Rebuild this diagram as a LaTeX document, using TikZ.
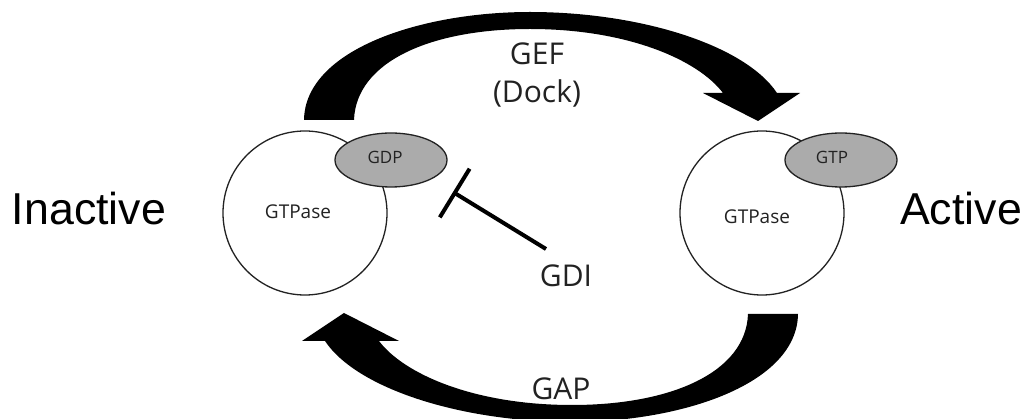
\documentclass[tikz,border=0pt]{standalone}
\usepackage{fontspec}
\setmainfont{Open Sans}
\newfontfamily\arialfont{Liberation Sans}
\usetikzlibrary{shapes.geometric,arrows.meta}
\definecolor{ink}{HTML}{222222}
\definecolor{nucfill}{HTML}{ABABAB}
\tikzset{
  protein/.style={circle, draw=ink, line width=1.3pt, fill=white, minimum size=164pt, inner sep=0pt},
  nucleotide/.style={ellipse, draw=ink, line width=1.3pt, fill=nucfill, minimum width=112pt, minimum height=54pt, inner sep=0pt},
  biglabel/.style={font=\fontsize{30}{38}\selectfont, text=ink, anchor=base, align=center, inner sep=0pt},
  smalllabel/.style={font=\fontsize{19}{22}\selectfont, text=ink, anchor=base, inner sep=0pt},
  nuclabel/.style={font=\fontsize{17}{20}\selectfont, text=ink, anchor=base, inner sep=0pt},
  statelabel/.style={font=\arialfont\fontsize{44.7}{50}\selectfont, text=black, anchor=base, inner sep=0pt},
  fatarrow/.style={fill=black, draw=none},
  inhibit/.style={line width=4pt, draw=black, -{Bar[width=57pt, line width=4pt]}}
}
\begin{document}
\begin{tikzpicture}[x=1pt,y=-1pt]
\useasboundingbox (0,0) rectangle (1029,419);
\fill[white] (0,0) rectangle (1029,419);
% GEF arrow (top)
\path[fatarrow] (304,120) .. controls (305,50) and (420,12) .. (530,12)
  .. controls (640,12) and (745,45) .. (777,93)
  -- (800,93) -- (758,121) -- (703,93) -- (723,93)
  .. controls (698,60) and (628,29) .. (530,29)
  .. controls (430,29) and (356,62) .. (354,120) -- cycle;
% GAP arrow (bottom), same shape turned half round
\begin{scope}[rotate around={180:(551,217)}]
\path[fatarrow] (304,120) .. controls (305,50) and (420,12) .. (530,12)
  .. controls (640,12) and (745,45) .. (777,93)
  -- (800,93) -- (758,121) -- (703,93) -- (723,93)
  .. controls (698,60) and (628,29) .. (530,29)
  .. controls (430,29) and (356,62) .. (354,120) -- cycle;
\end{scope}
% proteins
\node[protein] (gtpaseL) at (305,213) {};
\node[protein] (gtpaseR) at (762,213) {};
\node[nucleotide] (gdp) at (391,160) {};
\node[nucleotide] (gtp) at (841,160) {};
\node[smalllabel] (labL) at (298,219) {GTPase};
\node[smalllabel] (labR) at (757,224) {GTPase};
\node[nuclabel] (gdplab) at (385,164) {GDP};
\node[nuclabel] (gtplab) at (832,164) {GTP};
% labels
\node[biglabel] (gef) at (537,103) {GEF\\(Dock)};
\node[biglabel] (gap) at (561,400) {GAP};
\node[biglabel] (gdi) at (566,287) {GDI};
\node[statelabel] (inactive) at (89,225) {Inactive};
\node[statelabel] (active) at (961,225) {Active};
% GDI inhibition
\coordinate (gdistart) at (546,249);
\coordinate (gdibar) at (453,192);
\draw[inhibit] (gdistart) -- (gdibar);
\end{tikzpicture}
\end{document}
